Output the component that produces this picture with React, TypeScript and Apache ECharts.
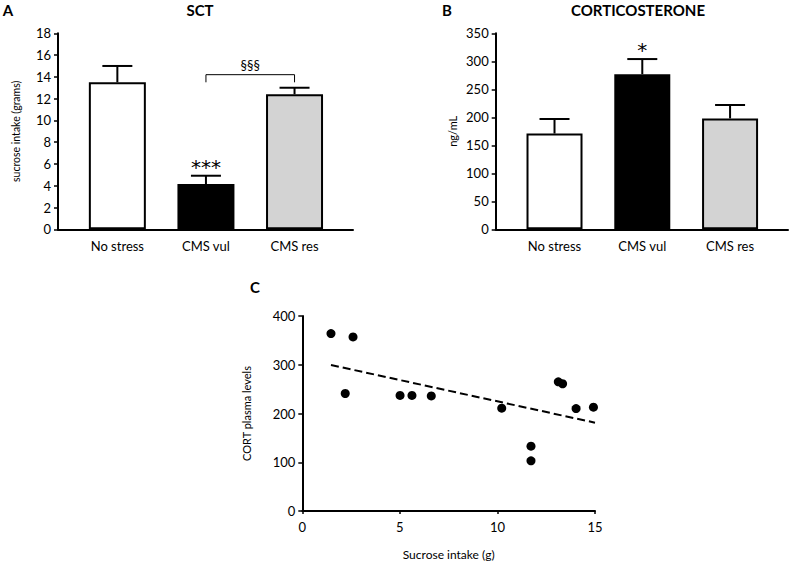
import React, { useEffect, useRef } from 'react';
import * as echarts from 'echarts';

// ---- data ----
const groups = ['No stress', 'CMS vul', 'CMS res'];
const sctMean = [13.5, 4.15, 12.4];
const sctSem = [1.5, 0.77, 0.6];
const cortMean = [171, 277, 198];
const cortSem = [26, 27, 24];
const barColors = ['#ffffff', '#000000', '#d3d3d3'];
const sctMarks = ['', '***', ''];
const cortMarks = ['', '*', ''];
const bracketX = [1, 2];
const bracketY = [13.5, 14.2];
const bracketText = '§§§';
const sucroseIntake = [1.47, 2.6, 2.2, 5.01, 5.62, 6.61, 10.22, 11.72, 11.72, 13.12, 13.34, 14.03, 14.92];
const cortLevels = [364, 357, 241, 237, 237, 236, 211, 133, 103, 265, 261, 210, 213];
const trendX = [1.47, 15.0];
const trendY = [299.5, 181.2];
const sctTicks = { min: 0, max: 18, interval: 2 };
const cortTicks = { min: 0, max: 350, interval: 50 };
const scatterXTicks = { min: 0, max: 15, interval: 5 };
const scatterYTicks = { min: 0, max: 400, interval: 100 };

const FONT = 'Lato';
const STAR_FONT = 'DejaVu Sans';

function barXAxis(gridIndex: number) {
  return {
    gridIndex,
    type: 'value',
    min: -0.67,
    max: 2.66,
    splitLine: { show: false },
    axisLine: { show: true, onZero: false, lineStyle: { color: '#000', width: 2 } },
    axisTick: { show: false },
    axisLabel: {
      customValues: [0, 1, 2],
      formatter: (v: number) => groups[Math.round(v)] ?? '',
      fontSize: 13,
      color: '#000',
      margin: 10,
      fontFamily: FONT,
    },
  };
}

function valueYAxis(gridIndex: number, t: any, name: string, nameGap: number, nameSize: number) {
  return {
    gridIndex,
    type: 'value',
    min: t.min,
    max: t.max,
    interval: t.interval,
    name,
    nameLocation: 'middle',
    nameGap,
    nameTextStyle: { fontSize: nameSize, color: '#000', fontFamily: FONT },
    splitLine: { show: false },
    axisLine: { show: true, onZero: false, lineStyle: { color: '#000', width: 2 } },
    axisTick: { show: true, length: 4, lineStyle: { color: '#000', width: 1.5 } },
    axisLabel: { fontSize: 13, color: '#000', margin: 7, fontFamily: FONT },
  };
}

function errorSeries(axisIndex: number, mean: number[], sem: number[], marks: string[], markOffset: number, markSize: number) {
  return {
    type: 'custom',
    xAxisIndex: axisIndex,
    yAxisIndex: axisIndex,
    z: 5,
    clip: false,
    data: mean.map((m, i) => [i, m, sem[i]]),
    renderItem: (params: any, api: any) => {
      const x = api.value(0);
      const m = api.value(1);
      const s = api.value(2);
      const base = api.coord([x, m]);
      const top = api.coord([x, m + s]);
      const half = 15;
      const children: any[] = [
        { type: 'line', shape: { x1: base[0], y1: base[1], x2: top[0], y2: top[1] }, style: { stroke: '#000', lineWidth: 2 } },
        { type: 'line', shape: { x1: top[0] - half, y1: top[1], x2: top[0] + half, y2: top[1] }, style: { stroke: '#000', lineWidth: 2 } },
      ];
      const mk = marks[params.dataIndex];
      if (mk) {
        children.push({
          type: 'text',
          x: top[0],
          y: top[1] - markOffset,
          style: {
            text: mk,
            fontSize: markSize,
            fontFamily: STAR_FONT,
            fill: '#000',
            align: 'center',
            verticalAlign: 'middle',
            textAlign: 'center',
            textVerticalAlign: 'middle',
          },
        });
      }
      return { type: 'group', children };
    },
  };
}

const titleStyle = (text: string) => ({
  text,
  fontSize: 15,
  fontWeight: 'bold',
  fontFamily: FONT,
  fill: '#000',
  align: 'center',
  verticalAlign: 'middle',
  textAlign: 'center',
  textVerticalAlign: 'middle',
});

export default function App() {
  const ref = useRef<HTMLDivElement>(null);
  useEffect(() => {
    if (!ref.current) return;
    const chart = echarts.init(ref.current, undefined, { renderer: 'svg' });
    const option: any = {
      animation: false,
      backgroundColor: '#fff',
      textStyle: { fontFamily: FONT },
      grid: [
        { left: 58, top: 33.3, width: 295, height: 196, containLabel: false, outerBoundsMode: 'none' },
        { left: 495.7, top: 33.3, width: 292.3, height: 196, containLabel: false, outerBoundsMode: 'none' },
        { left: 302.3, top: 316, width: 292.7, height: 195, containLabel: false, outerBoundsMode: 'none' },
      ],
      graphic: [
        { type: 'text', x: 8, y: 10, style: titleStyle('A') },
        { type: 'text', x: 200, y: 10, style: titleStyle('SCT') },
        { type: 'text', x: 447, y: 10, style: titleStyle('B') },
        { type: 'text', x: 638, y: 10, style: titleStyle('CORTICOSTERONE') },
        { type: 'text', x: 255, y: 287, style: titleStyle('C') },
      ],
      xAxis: [
        barXAxis(0),
        barXAxis(1),
        {
          gridIndex: 2,
          type: 'value',
          min: scatterXTicks.min,
          max: scatterXTicks.max,
          interval: scatterXTicks.interval,
          name: 'Sucrose intake (g)',
          nameLocation: 'middle',
          nameGap: 37,
          nameTextStyle: { fontSize: 12, color: '#000', fontFamily: FONT },
          splitLine: { show: false },
          axisLine: { show: true, onZero: false, lineStyle: { color: '#000', width: 2 } },
          axisTick: { show: true, length: 3, lineStyle: { color: '#000', width: 1.5 } },
          axisLabel: { fontSize: 13, color: '#000', margin: 9, fontFamily: FONT },
        },
      ],
      yAxis: [
        valueYAxis(0, sctTicks, 'sucrose intake (grams)', 37, 10.5),
        valueYAxis(1, cortTicks, 'ng/mL', 38, 11),
        valueYAxis(2, scatterYTicks, 'CORT plasma levels', 50, 11),
      ],
      series: [
        {
          type: 'bar',
          xAxisIndex: 0,
          yAxisIndex: 0,
          barWidth: 57,
          itemStyle: { borderColor: '#000', borderWidth: 2 },
          data: sctMean.map((m, i) => ({ value: [i, m], itemStyle: { color: barColors[i] } })),
        },
        errorSeries(0, sctMean, sctSem, sctMarks, 9, 20),
        {
          type: 'custom',
          xAxisIndex: 0,
          yAxisIndex: 0,
          z: 5,
          clip: false,
          data: [[bracketX[0], bracketX[1], bracketY[0], bracketY[1]]],
          renderItem: (params: any, api: any) => {
            const x1 = api.value(0), x2 = api.value(1), yl = api.value(2), yt = api.value(3);
            const p1 = api.coord([x1, yl]);
            const p2 = api.coord([x1, yt]);
            const p3 = api.coord([x2, yt]);
            const p4 = api.coord([x2, yl]);
            return {
              type: 'group',
              children: [
                { type: 'polyline', shape: { points: [p1, p2, p3, p4] }, style: { stroke: '#000', lineWidth: 1, fill: 'none' } },
                {
                  type: 'text',
                  x: (p2[0] + p3[0]) / 2,
                  y: p2[1] - 10,
                  style: { text: bracketText, fontSize: 13, fontFamily: FONT, fill: '#000', align: 'center', verticalAlign: 'middle', textAlign: 'center', textVerticalAlign: 'middle' },
                },
              ],
            };
          },
        },
        {
          type: 'bar',
          xAxisIndex: 1,
          yAxisIndex: 1,
          barWidth: 56,
          itemStyle: { borderColor: '#000', borderWidth: 2 },
          data: cortMean.map((m, i) => ({ value: [i, m], itemStyle: { color: barColors[i] } })),
        },
        errorSeries(1, cortMean, cortSem, cortMarks, 9, 20),
        {
          type: 'scatter',
          xAxisIndex: 2,
          yAxisIndex: 2,
          symbolSize: 9,
          itemStyle: { color: '#000', opacity: 1 },
          data: sucroseIntake.map((x, i) => [x, cortLevels[i]]),
        },
        {
          type: 'line',
          xAxisIndex: 2,
          yAxisIndex: 2,
          symbol: 'none',
          lineStyle: { color: '#000', width: 2, type: [8, 4] },
          data: trendX.map((x, i) => [x, trendY[i]]),
        },
      ],
    };
    chart.setOption(option);
    return () => chart.dispose();
  }, []);
  return <div ref={ref} style={{ position: 'absolute', left: 0, top: 0, width: 792, height: 562 }} />;
}
